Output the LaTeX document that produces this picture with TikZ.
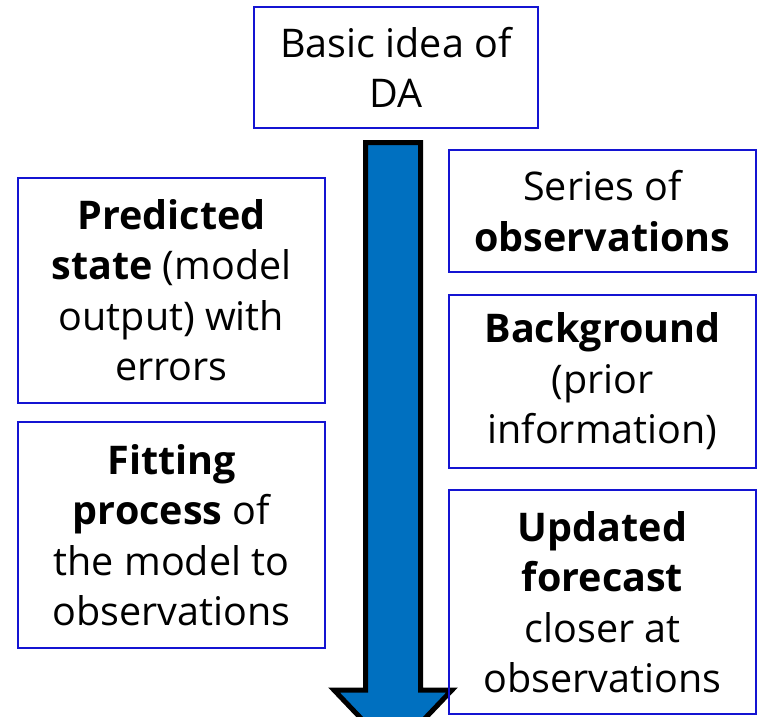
\documentclass[tikz,border=0pt]{standalone}
\usepackage{fontspec}
\setmainfont{Open Sans}
\begin{document}
\begin{tikzpicture}[x=1pt,y=-1pt,
  infobox/.style={draw=boxblue, line width=2pt, align=center, inner sep=0pt,
    font=\fontsize{39.5}{50.5}\selectfont, minimum width=#1},
  infobox/.default=307pt]
\definecolor{boxblue}{RGB}{20,20,210}
\definecolor{arrowblue}{RGB}{0,112,192}
\useasboundingbox (0,0) rectangle (763,716);
\clip (0,0) rectangle (763,716);
% the big downward arrow behind the boxes
\coordinate (s1) at (365.5,142.5);
\coordinate (s2) at (420.5,142.5);
\coordinate (s3) at (420.5,690);
\coordinate (s4) at (452,690);
\coordinate (tip) at (393,752);
\coordinate (s5) at (334,690);
\coordinate (s6) at (365.5,690);
\draw[fill=arrowblue, line width=5pt, line join=miter]
  (s1) -- (s2) -- (s3) -- (s4) -- (tip) -- (s5) -- (s6) -- cycle;
% title
\node[infobox=284pt, minimum height=121pt] (title) at (396,67.5) {Basic idea of\\DA};
% left column
\node[infobox, minimum height=225pt] (pred) at (171.5,290)
  {\textbf{Predicted}\\\textbf{state} (model\\output) with\\errors};
\node[infobox, minimum height=226pt] (fit) at (171.5,535)
  {\textbf{Fitting}\\\textbf{process} of\\the model to\\observations};
% right column
\node[infobox, minimum height=122pt] (obs) at (602.5,211)
  {Series of\\\textbf{observations}};
\node[infobox, minimum height=173pt] (bg) at (602.5,381.5)
  {\textbf{Background}\\(prior\\information)};
\node[infobox, minimum height=224pt] (upd) at (602.5,602)
  {\textbf{Updated}\\\textbf{forecast}\\closer at\\observations};
\end{tikzpicture}
\end{document}
